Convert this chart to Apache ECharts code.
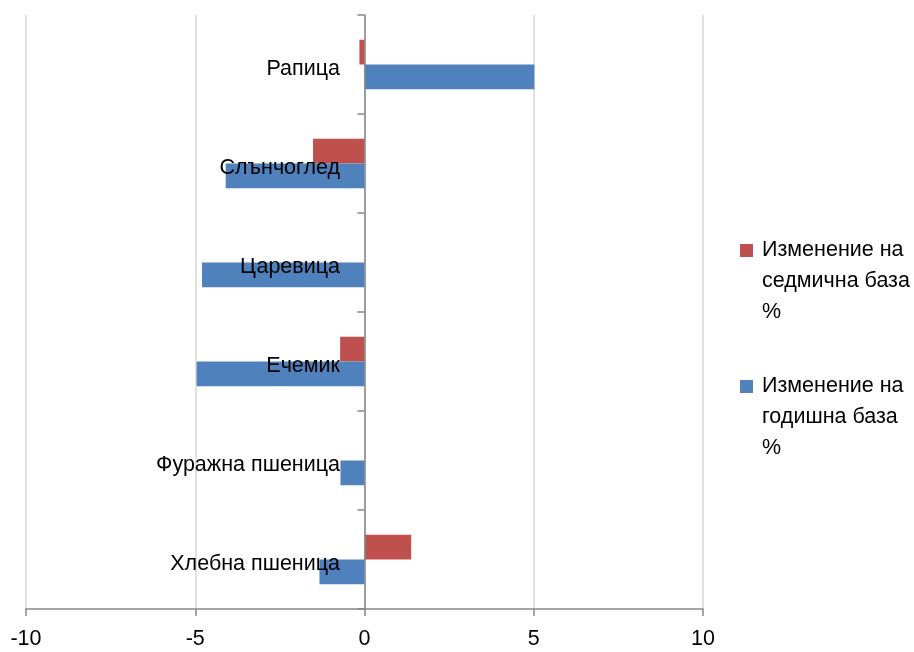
<!DOCTYPE html>
<html><head><meta charset="utf-8">
<script src="https://cdn.jsdelivr.net/npm/echarts@6/dist/echarts.min.js"></script>
<style>html,body{margin:0;padding:0;background:#fff}#c{width:914px;height:652px}</style>
</head><body><div id="c"></div>
<script>
const categories = ['Хлебна пшеница','Фуражна пшеница','Ечемик','Царевица','Слънчоглед','Рапица'];
const weekly = [1.38, 0, -0.72, 0, -1.52, -0.15];
const yearly = [-1.33, -0.71, -4.96, -4.8, -4.1, 5.02];
const weeklyName = 'Изменение на седмична база %';
const yearlyName = 'Изменение на годишна база %';
const weeklyLines = ['Изменение на', 'седмична база', '%'];
const yearlyLines = ['Изменение на', 'годишна база', '%'];
const xTicks = {min: -10, max: 10, interval: 5};

const FONT = 'Liberation Sans, Arial, sans-serif';
const FS = 21.5;
function legendFor(name, lines, top) {
  return {
    orient: 'vertical', left: 735, top: top,
    data: [name],
    itemWidth: 13, itemHeight: 13, itemGap: 0,
    icon: 'rect',
    formatter: function () { return '\n\n' + lines.join('\n'); },
    textStyle: {fontSize: FS, color: '#000', lineHeight: 31, fontFamily: FONT, padding: [0, 0, 0, 4]}
  };
}

const chart = echarts.init(document.getElementById('c'));
chart.setOption({
  animation: false,
  textStyle: {fontFamily: FONT},
  grid: {left: 26, right: 211, top: 15, bottom: 43, containLabel: false, outerBoundsMode: 'none'},
  legend: [legendFor(weeklyName, weeklyLines, 168), legendFor(yearlyName, yearlyLines, 304)],
  xAxis: {
    type: 'value', min: xTicks.min, max: xTicks.max, interval: xTicks.interval,
    axisLine: {show: true, lineStyle: {color: '#868686', width: 1.5}},
    axisTick: {show: true, length: 7, lineStyle: {color: '#868686', width: 1.5}},
    axisLabel: {fontSize: FS, color: '#000', margin: 19},
    splitLine: {show: true, lineStyle: {color: '#d9d9d9', width: 1.5}}
  },
  yAxis: {
    type: 'category', data: categories, z: 10,
    axisLine: {show: true, onZero: true, lineStyle: {color: '#868686', width: 1.5}},
    axisTick: {show: true, length: 7, alignWithLabel: false, lineStyle: {color: '#868686', width: 1.5}},
    axisLabel: {fontSize: FS, color: '#000', margin: -314, verticalAlign: 'top', lineHeight: 9},
    splitLine: {show: false}
  },
  series: [
    {name: weeklyName, type: 'bar', data: weekly, barGap: '0%', barCategoryGap: '50%',
     itemStyle: {color: '#C0504D'}},
    {name: yearlyName, type: 'bar', data: yearly, barGap: '0%', barCategoryGap: '50%',
     itemStyle: {color: '#4F81BD'}}
  ]
});
</script></body></html>
